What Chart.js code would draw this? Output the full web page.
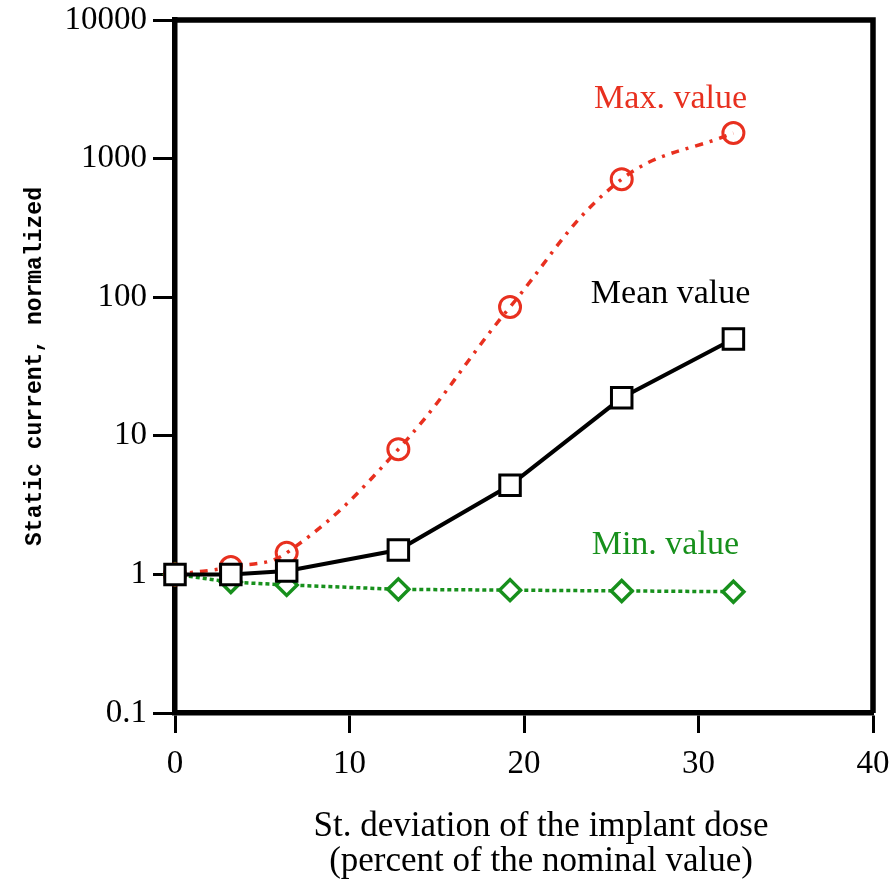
<!DOCTYPE html>
<html>
<head>
<meta charset="utf-8">
<script src="https://cdn.jsdelivr.net/npm/chart.js@4.4.1/dist/chart.umd.min.js"></script>
<style>
  html, body { margin: 0; padding: 0; background: #fff; }
  canvas { display: block; }
</style>
</head>
<body>
<canvas id="chart" width="893" height="882"></canvas>
<script>
// dose spread (%) and normalized static current
const deviation = [0, 3.2, 6.4, 12.8, 19.2, 25.6, 32];
const maxValues = [1, 1.13, 1.43, 8.0, 85, 710, 1530];
const meanValues = [1, 1.0, 1.06, 1.5, 4.4, 18.8, 50];
const minValues = [1, 0.88, 0.84, 0.78, 0.77, 0.76, 0.75];

const yTicks = [0.1, 1, 10, 100, 1000, 10000];
const xTicks = [0, 10, 20, 30, 40];

const xTitle = ['St. deviation of the implant dose', '(percent of the nominal value)'];
const yTitle = 'Static current, normalized';

// series labels placed in data coordinates
const seriesNotes = [
  { text: 'Max. value', x: 28.4, y: 2700, color: '#e8301f' },
  { text: 'Mean value', x: 28.4, y: 105, color: '#000000' },
  { text: 'Min. value', x: 28.1, y: 1.63, color: '#17901c' }
];

const RED = '#e8301f';
const GREEN = '#17901c';
const serif = "'Liberation Serif', 'Times New Roman', serif";

const toPoints = vals => deviation.map((x, i) => ({ x: x, y: vals[i] }));

// closes the box on top and right, writes the series labels and the x title
const framePlugin = {
  id: 'frame',
  afterDraw(chart) {
    const { ctx, chartArea: a, scales } = chart;
    ctx.save();
    ctx.strokeStyle = '#000';
    ctx.lineWidth = 5.5;
    ctx.beginPath();
    ctx.moveTo(a.left - 2.5, a.top);
    ctx.lineTo(a.right, a.top);
    ctx.lineTo(a.right, a.bottom);
    ctx.stroke();

    ctx.font = '34px ' + serif;
    ctx.textAlign = 'center';
    ctx.textBaseline = 'middle';
    seriesNotes.forEach(n => {
      ctx.fillStyle = n.color;
      ctx.fillText(n.text, scales.x.getPixelForValue(n.x), scales.y.getPixelForValue(n.y));
    });

    ctx.fillStyle = '#000';
    ctx.font = '35px ' + serif;
    const cx = (a.left + a.right) / 2 + 17;
    xTitle.forEach((line, i) => ctx.fillText(line, cx, a.bottom + 114 + i * 35));
    ctx.restore();
  }
};

new Chart(document.getElementById('chart'), {
  type: 'scatter',
  data: {
    datasets: [
      {
        label: 'Mean value',
        data: toPoints(meanValues),
        showLine: true,
        borderColor: '#000',
        borderWidth: 4,
        pointStyle: 'rect',
        pointRadius: 14.5,
        pointBorderWidth: 3,
        pointBackgroundColor: '#fff',
        pointBorderColor: '#000',
        tension: 0,
        order: 0
      },
      {
        label: 'Max. value',
        data: toPoints(maxValues),
        showLine: true,
        borderColor: RED,
        borderWidth: 3.5,
        borderDash: [8, 7, 3, 7],
        pointStyle: 'circle',
        pointRadius: 10.5,
        pointBorderWidth: 3,
        pointBackgroundColor: 'rgba(255,255,255,0)',
        pointBorderColor: RED,
        tension: 0.4,
        order: 1
      },
      {
        label: 'Min. value',
        data: toPoints(minValues),
        showLine: true,
        borderColor: GREEN,
        borderWidth: 3.5,
        borderDash: [4, 3],
        pointStyle: 'rectRot',
        pointRadius: 10.5,
        pointBorderWidth: 3.5,
        pointBackgroundColor: '#fff',
        pointBorderColor: GREEN,
        tension: 0,
        order: 2
      }
    ]
  },
  options: {
    responsive: false,
    devicePixelRatio: 1,
    animation: false,
    clip: false,
    layout: { padding: { top: 20, right: 20, left: 0, bottom: 0 } },
    plugins: {
      legend: { display: false },
      tooltip: { enabled: false }
    },
    scales: {
      x: {
        type: 'linear',
        min: 0,
        max: 40,
        afterFit: s => {
          s.height = 169;
          s.paddingLeft = 0;
          s.paddingRight = 0;
        },
        afterBuildTicks: s => { s.ticks = xTicks.map(v => ({ value: v })); },
        border: { display: true, color: '#000', width: 5.5 },
        grid: {
          drawOnChartArea: false,
          drawTicks: true,
          tickLength: 20,
          tickWidth: 3,
          tickColor: '#000'
        },
        ticks: {
          color: '#000',
          padding: 12,
          font: { family: serif, size: 33 },
          callback: v => String(v)
        }
      },
      y: {
        type: 'logarithmic',
        min: 0.1,
        max: 10000,
        afterFit: s => {
          s.width = 175;
          s.paddingTop = 0;
          s.paddingBottom = 0;
        },
        afterBuildTicks: s => { s.ticks = yTicks.map(v => ({ value: v })); },
        border: { display: true, color: '#000', width: 5.5 },
        grid: {
          drawOnChartArea: false,
          drawTicks: true,
          tickLength: 22,
          tickWidth: 3,
          tickColor: '#000'
        },
        ticks: {
          color: '#000',
          padding: 6,
          font: { family: serif, size: 33 },
          callback: v => String(v)
        },
        title: {
          display: true,
          text: yTitle,
          color: '#000',
          font: { family: "'Liberation Mono', monospace", size: 23, weight: 'bold', lineHeight: 1.2 },
          padding: { top: 21, bottom: 0 }
        }
      }
    }
  },
  plugins: [framePlugin]
});
</script>
</body>
</html>
